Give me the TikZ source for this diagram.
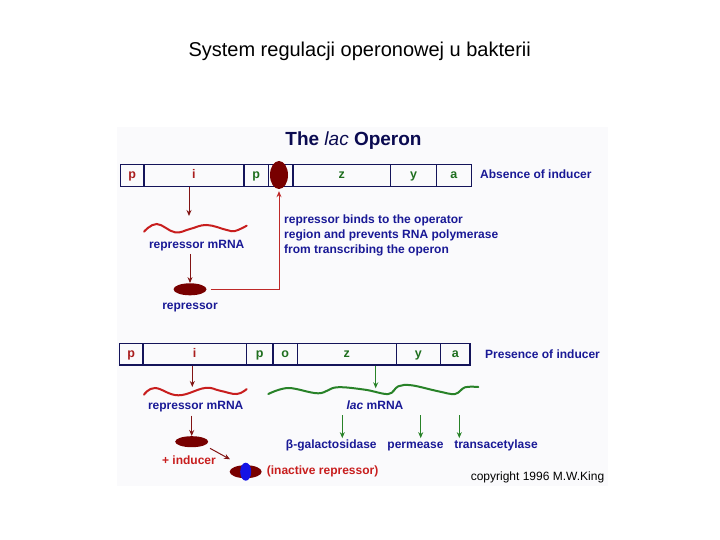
\documentclass[tikz,border=0pt]{standalone}
\usepackage{fontspec}
\setmainfont{Liberation Sans}
\usetikzlibrary{shapes.geometric,arrows.meta}
\definecolor{navy}{RGB}{25,25,150}
\definecolor{titlenavy}{RGB}{10,10,80}
\definecolor{barline}{RGB}{20,20,90}
\definecolor{letred}{RGB}{170,30,30}
\definecolor{letgreen}{RGB}{30,110,30}
\definecolor{darkred}{RGB}{120,0,0}
\definecolor{arrred}{RGB}{130,20,20}
\definecolor{brightred}{RGB}{190,40,40}
\definecolor{wavered}{RGB}{200,30,30}
\definecolor{wavegreen}{RGB}{40,130,40}
\definecolor{indblue}{RGB}{20,20,230}
\definecolor{panelbg}{RGB}{250,250,252}
\begin{document}
\begin{tikzpicture}[x=1pt,y=-1pt,
  seg/.style={draw=barline,line width=1.2pt,inner sep=0pt,anchor=west,
    text height=8pt,text depth=1.8pt,
    font=\bfseries\fontsize{12.5}{14}\selectfont},
  segr/.style={seg,text=letred},
  segg/.style={seg,text=letgreen},
  lbl/.style={text=navy,font=\bfseries\fontsize{12}{15}\selectfont,inner sep=0pt,
    text height=8.8pt,text depth=2.5pt},
  redlbl/.style={lbl,text=wavered},
  blob/.style={ellipse,fill=darkred,draw=none,inner sep=0pt},
  tip/.style={-{Stealth[length=6pt,width=5pt]}},
  darr/.style={draw=arrred,line width=1pt,tip},
  garr/.style={draw=wavegreen,line width=1pt,tip},
  rwave/.style={draw=wavered,line width=2pt,line cap=round},
  gwave/.style={draw=wavegreen,line width=2pt,line cap=round}]
\useasboundingbox (0,0) rectangle (720,540);
\fill[white] (0,0) rectangle (720,540);
\node[font=\fontsize{20}{24}\selectfont,inner sep=0pt] (slidetitle) at (359.7,51.7) {System regulacji operonowej u bakterii};
\fill[panelbg] (117,127) rectangle (608,486);

% title
\node[text=titlenavy,font=\bfseries\fontsize{19}{22}\selectfont,inner sep=0pt] (optitle) at (353.5,141) {The {\mdseries\itshape lac} Operon};

% top bar (absence)
\begin{scope}[every node/.append style={minimum height=22.4pt}]
\node[segr,minimum width=23.3pt] (p1) at (120,175.5) {p};
\node[segr,minimum width=100pt] (i1) at (143.3,175.5) {i};
\node[segg,minimum width=24.4pt] (pp1) at (243.3,175.5) {p};
\node[segg,minimum width=24.6pt] (o1) at (267.7,175.5) {};
\node[segg,minimum width=97.7pt] (z1) at (292.3,175.5) {z};
\node[segg,minimum width=46pt] (y1) at (390,175.5) {y};
\node[segg,minimum width=34.7pt] (a1) at (436,175.5) {a};
\end{scope}
\node[blob,minimum width=18pt,minimum height=28pt] (opr) at (279,175) {};
\node[lbl,anchor=west] (absence) at (480,175) {Absence of inducer};

\coordinate (w1t) at (189,216);
\draw[darr] (i1.south -| w1t) -- (w1t);
\draw[rwave] plot[smooth,tension=0.7] coordinates {(144,231.7) (156.7,224) (175,232.3) (190,229) (206.7,225) (226.7,230) (235,231) (246.7,225.7)};
\node[lbl] (rm1) at (196.7,245) {repressor mRNA};
\node[blob,minimum width=33pt,minimum height=12pt] (rep1) at (190,289.3) {};
\draw[darr,shorten <=3pt] (rm1.south -| rep1.north) -- (rep1.north);
\node[lbl] (repl) at (190,306.7) {repressor};
\draw[draw=brightred,line width=1pt,tip,shorten <=4pt,shorten >=2pt] (rep1.east) -| (opr.south);
\node[lbl,text height=,text depth=,anchor=north west,align=left] (binds) at (284,215) {repressor binds to the operator\\region and prevents RNA polymerase\\from transcribing the operon};

% bottom bar (presence)
\begin{scope}[every node/.append style={minimum height=21.7pt}]
\node[segr,minimum width=23.3pt] (p2) at (119,354.2) {p};
\node[segr,minimum width=103.4pt] (i2) at (142.3,354.2) {i};
\node[segg,minimum width=26.6pt] (pp2) at (245.7,354.2) {p};
\node[segg,minimum width=24.4pt] (o2) at (272.3,354.2) {o};
\node[segg,minimum width=99pt] (z2) at (296.7,354.2) {z};
\node[segg,minimum width=44.3pt] (y2) at (395.7,354.2) {y};
\node[segg,minimum width=29.3pt] (a2) at (440,354.2) {a};
\end{scope}
\node[lbl,anchor=west] (presence) at (485,355) {Presence of inducer};

\coordinate (w2t) at (192.3,387);
\draw[darr] (i2.south -| w2t) -- (w2t);
\draw[rwave] plot[smooth,tension=0.7] coordinates {(144,394.7) (155,388) (178.3,395.3) (205,388) (220,390.7) (236.7,394) (246.7,389)};
\node[lbl] (rm2) at (195.7,406.7) {repressor mRNA};
\node[blob,minimum width=33pt,minimum height=11pt] (rep2) at (191.7,441.7) {};
\draw[darr,shorten <=3pt] (rm2.south -| rep2.north) -- (rep2.north);
\node[redlbl] (inducer) at (189,461.7) {+ inducer};
\coordinate (ia0) at (210,448.3);
\coordinate (ia1) at (230,459.3);
\draw[darr] (ia0) -- (ia1);
\node[blob,minimum width=32pt,minimum height=13pt] (inact) at (245.7,471.7) {};
\node[ellipse,fill=indblue,inner sep=0pt,minimum width=11pt,minimum height=18pt] (indb) at (245.7,471.7) {};
\node[redlbl,anchor=west] (inacttxt) at (266.7,471.7) {(inactive repressor)};

\coordinate (gw) at (375.7,388.3);
\draw[gwave] plot[smooth,tension=0.6] coordinates {(268.3,394) (288.3,388) (318.3,393.3) (336.7,387.3) (365,389.7) (388.3,394) (398.3,386.3) (411.7,385.3) (438.3,391.3) (455,394) (465,387.3) (478.3,387)};
\draw[garr] (z2.south -| gw) -- (gw);
\node[lbl] (lacm) at (375,406) {{\itshape lac} mRNA};
\node[lbl] (bgal) at (331.3,445) {β-galactosidase};
\node[lbl] (perm) at (415.5,445) {permease};
\node[lbl] (trans) at (496,445) {transacetylase};
\coordinate (g1) at (342.3,415);
\coordinate (g2) at (420.7,415);
\coordinate (g3) at (459.3,415);
\draw[garr,shorten >=1pt] (g1) -- (g1 |- bgal.north);
\draw[garr,shorten >=1pt] (g2) -- (g2 |- perm.north);
\draw[garr,shorten >=1pt] (g3) -- (g3 |- trans.north);
\node[font=\fontsize{12}{14}\selectfont,inner sep=0pt] (copyr) at (537.5,477) {copyright 1996 M.W.King};
\end{tikzpicture}
\end{document}
